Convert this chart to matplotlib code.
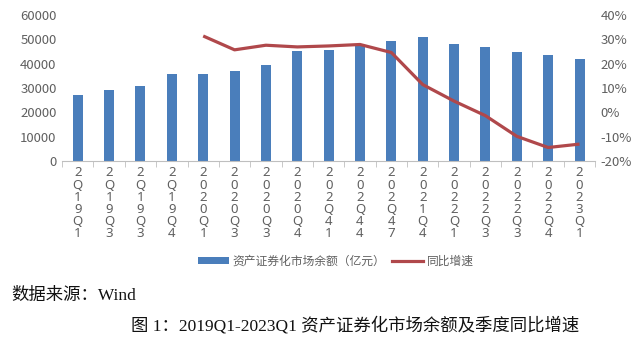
import matplotlib.pyplot as plt
from matplotlib.lines import Line2D
from matplotlib.patches import Patch

plt.rcParams['font.family'] = ['Noto Sans CJK SC', 'DejaVu Sans']

# =========================================================
# Data
# =========================================================

quarters = [
    "2Q19Q1", "2Q19Q3", "2Q19Q3", "2Q19Q4",
    "2020Q1", "2020Q3", "2020Q3", "2020Q4",
    "202Q41", "202Q44", "202Q47", "2021Q4",
    "2022Q1", "2022Q3", "2022Q3", "2022Q4", "2023Q1",
]

balance = [
    27000, 29200, 30900, 35600,
    35900, 37000, 39400, 45400,
    45700, 47600, 49400, 50800,
    48100, 47000, 44700, 43400, 41800,
]

# year-on-year growth (%), starts at 2020Q1
growth_x = list(range(4, 17))
growth = [31.4, 25.7, 27.6, 26.9, 27.3, 27.9, 24.6, 11.4, 4.6, -1.4, -9.9, -14.5, -13.1]

bar_color = "#4A7EBB"
line_color = "#B0484B"
text_gray = "#606060"

# =========================================================
# Plot
# =========================================================

fig = plt.figure(figsize=(6.4, 3.43), dpi=100)
ax = fig.add_axes([0.097, 0.531, 0.833, 0.425])

x = list(range(len(quarters)))
ax.bar(x, balance, width=0.32, color=bar_color, zorder=2)

ax.set_xlim(-0.5, len(quarters) - 0.5)
ax.set_ylim(0, 60000)
ax.set_yticks(range(0, 60001, 10000))

ax.set_xticks(x)
ax.set_xticklabels(["\n".join(q) for q in quarters], fontsize=9.5,
                   color=text_gray, linespacing=0.92, family="Noto Sans")
ax.set_xticks([i + 0.5 for i in range(-1, len(quarters))], minor=True)
ax.tick_params(axis="x", which="major", length=0, pad=4)
ax.tick_params(axis="x", which="minor", length=4, color="#BFBFBF", direction="out")
ax.tick_params(axis="y", length=0, labelsize=9.5, labelcolor=text_gray, pad=4)

for s in ["top", "right", "left"]:
    ax.spines[s].set_visible(False)
ax.spines["bottom"].set_color("#BFBFBF")

# growth on the secondary axis
ax2 = ax.twinx()
ax2.plot(growth_x, growth, color=line_color, linewidth=2.3,
         solid_joinstyle="round", solid_capstyle="butt", zorder=3)
ax2.set_ylim(-20, 40)
ax2.set_yticks(range(-20, 41, 10))
ax2.set_yticklabels([f"{v}%" for v in range(-20, 41, 10)])
ax2.tick_params(axis="y", length=0, labelsize=9.5, labelcolor=text_gray, pad=4)
for s in ax2.spines.values():
    s.set_visible(False)

# legend
handles = [
    Patch(facecolor=bar_color, edgecolor="none"),
    Line2D([0], [0], color=line_color, linewidth=2.3),
]
labels = ["资产证券化市场余额（亿元）", "同比增速"]
fig.legend(handles, labels, loc="center", bbox_to_anchor=(0.525, 0.238),
           ncol=2, frameon=False, fontsize=8.5, labelcolor=text_gray,
           handlelength=2.6, handleheight=0.5, columnspacing=0.6,
           handletextpad=0.3)

serif_cjk = ["Liberation Serif", "Noto Sans CJK SC"]
fig.text(0.018, 0.137, "数据来源：Wind", fontsize=12.5, family=serif_cjk,
         va="center", ha="left", color="#111111")
fig.text(0.555, 0.052, "图 1：2019Q1-2023Q1 资产证券化市场余额及季度同比增速",
         fontsize=12.5, family=serif_cjk, va="center", ha="center", color="#111111")

fig.savefig("out.png", dpi=100)
